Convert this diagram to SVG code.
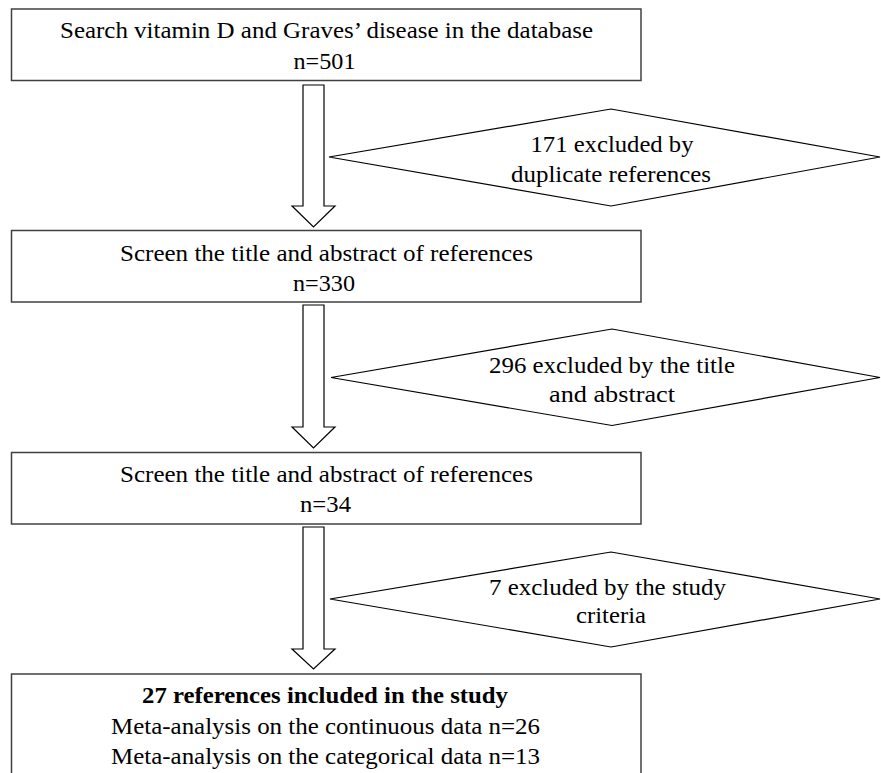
<svg xmlns="http://www.w3.org/2000/svg" width="881" height="773" viewBox="0 0 881 773">
<style>
.box{fill:#fff;stroke:#404040;stroke-width:1.5}
.dia{fill:#fff;stroke:#000;stroke-width:1.2}
.arr{fill:#fff;stroke:#000;stroke-width:1.2;stroke-linejoin:miter}
text{font-family:'Liberation Serif','Times New Roman',serif;font-size:23px;fill:#000;text-anchor:middle}
.b{font-weight:bold}
</style>
<rect width="881" height="773" fill="#fff"/>
<g id="connectors">
<path class="arr" d="M303,85 H324 V206 H335 L313.5,227 L292,206 H303 Z"/>
<path class="arr" d="M303,305 H324 V427 H335 L313.5,448 L292,427 H303 Z"/>
<path class="arr" d="M303,527 H324 V649 H335 L313.5,669 L292,649 H303 Z"/>
</g>
<g id="box1">
<rect class="box" x="11.5" y="9" width="629.5" height="71.5"/>
<text x="326.5" y="38" textLength="533" lengthAdjust="spacingAndGlyphs">Search vitamin D and Graves’ disease in the database</text>
<text x="324.5" y="69" textLength="62" lengthAdjust="spacingAndGlyphs">n=501</text>
</g>
<g id="excl1">
<polygon class="dia" points="329,157 611,109 880,157 611,206"/>
<text x="612" y="152" textLength="163" lengthAdjust="spacingAndGlyphs">171 excluded by</text>
<text x="611" y="181.5" textLength="200" lengthAdjust="spacingAndGlyphs">duplicate references</text>
</g>
<g id="box2">
<rect class="box" x="11.5" y="230.5" width="629.5" height="71.5"/>
<text x="326.5" y="260.5" textLength="413" lengthAdjust="spacingAndGlyphs">Screen the title and abstract of references</text>
<text x="324" y="290.5" textLength="62" lengthAdjust="spacingAndGlyphs">n=330</text>
</g>
<g id="excl2">
<polygon class="dia" points="331,377.5 612,329 880,377.5 612,425.5"/>
<text x="612" y="373" textLength="246" lengthAdjust="spacingAndGlyphs">296 excluded by the title</text>
<text x="612" y="402" textLength="126" lengthAdjust="spacingAndGlyphs">and abstract</text>
</g>
<g id="box3">
<rect class="box" x="11.5" y="452.5" width="629.5" height="71.5"/>
<text x="326.5" y="482" textLength="413" lengthAdjust="spacingAndGlyphs">Screen the title and abstract of references</text>
<text x="325.5" y="511.5" textLength="51" lengthAdjust="spacingAndGlyphs">n=34</text>
</g>
<g id="excl3">
<polygon class="dia" points="330,599 611,552 880,599 611,647"/>
<text x="607.5" y="595" textLength="237" lengthAdjust="spacingAndGlyphs">7 excluded by the study</text>
<text x="611" y="623" textLength="70" lengthAdjust="spacingAndGlyphs">criteria</text>
</g>
<g id="box4">
<rect class="box" x="11.5" y="674" width="629.5" height="110"/>
<text class="b" x="325" y="703" textLength="366" lengthAdjust="spacingAndGlyphs">27 references included in the study</text>
<text x="325.5" y="734" textLength="429" lengthAdjust="spacingAndGlyphs">Meta-analysis on the continuous data n=26</text>
<text x="325.5" y="764" textLength="429" lengthAdjust="spacingAndGlyphs">Meta-analysis on the categorical data n=13</text>
</g>
</svg>
